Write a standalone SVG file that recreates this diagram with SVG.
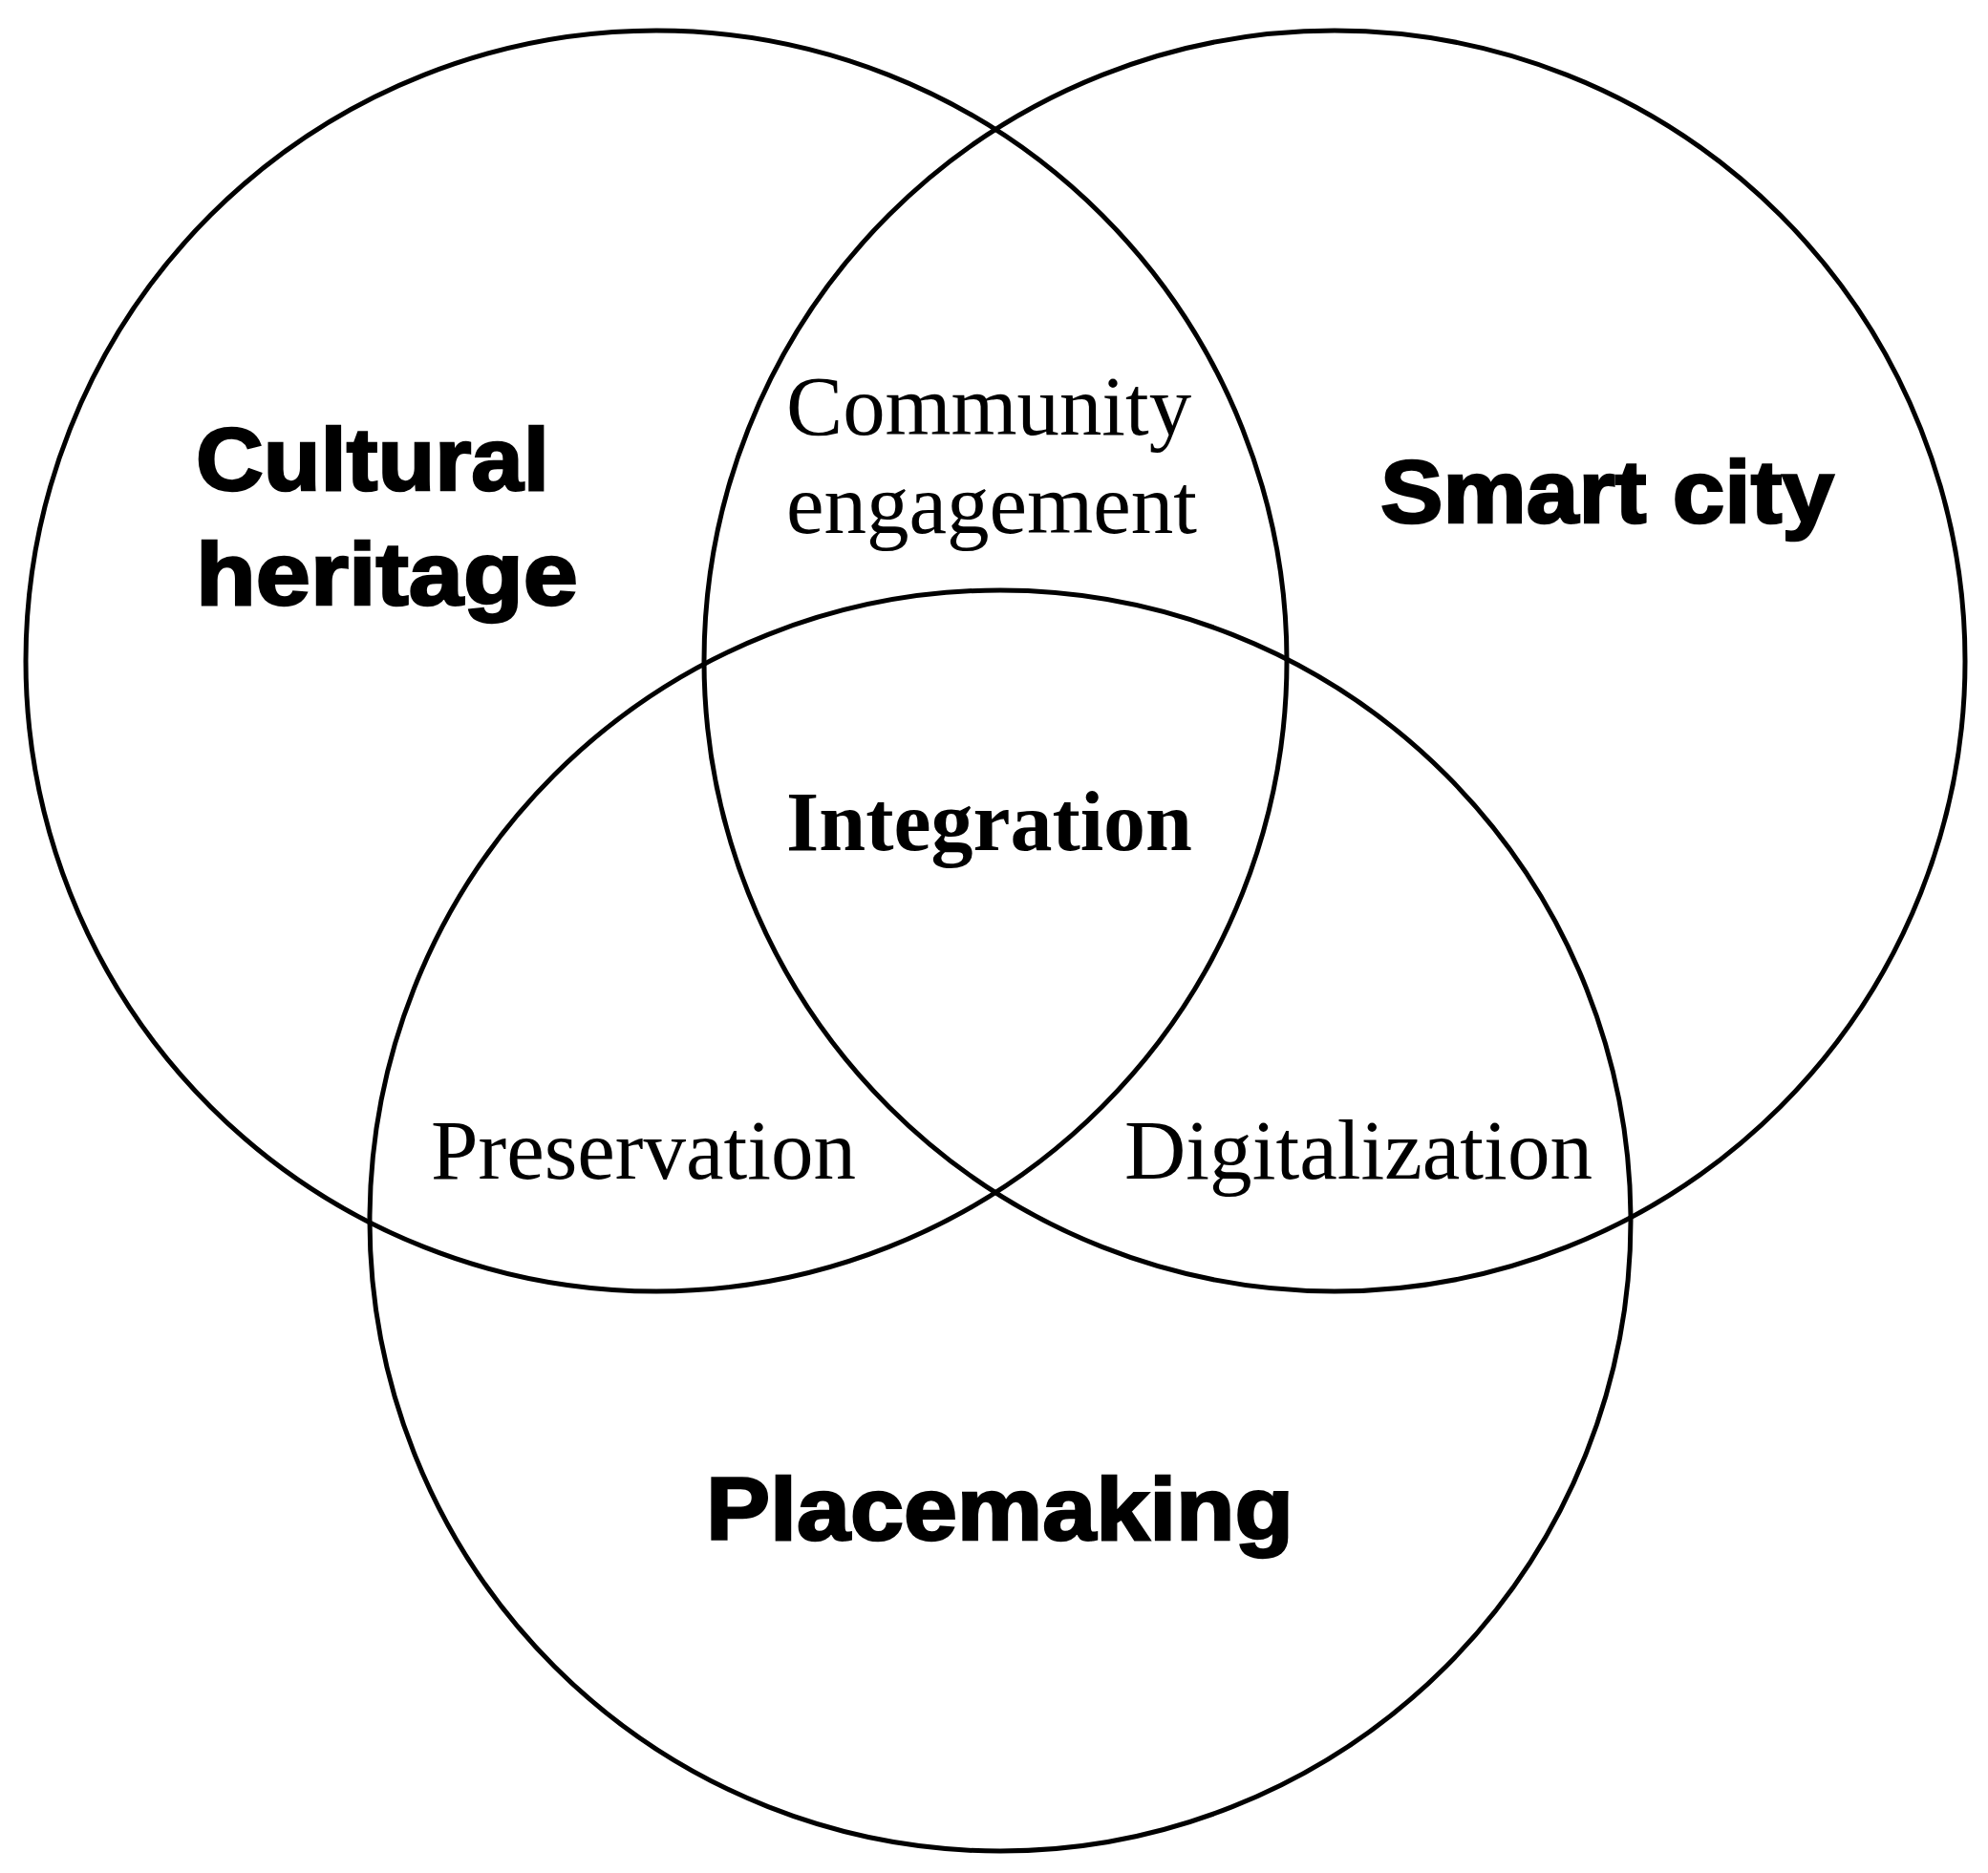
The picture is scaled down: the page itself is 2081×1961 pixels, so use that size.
<svg xmlns="http://www.w3.org/2000/svg" width="2081" height="1961" viewBox="0 0 2081 1961">
<style>
.c{fill:none;stroke:#000;stroke-width:5}
.h{font-family:"Liberation Sans",Arial,sans-serif;font-weight:bold;font-size:92px;fill:#000;stroke:#000;stroke-width:2.5}
.s{font-family:"Liberation Serif","Times New Roman",serif;font-size:88px;fill:#000}
.b{font-weight:bold}
</style>
<rect width="2081" height="1961" fill="#fff"/>
<g id="cultural-heritage">
<circle class="c" cx="687" cy="692" r="660"/>
<text class="h" x="205" y="513" textLength="370" lengthAdjust="spacingAndGlyphs">Cultural</text>
<text class="h" x="205" y="633" textLength="400" lengthAdjust="spacingAndGlyphs">heritage</text>
</g>
<g id="smart-city">
<circle class="c" cx="1397" cy="692" r="660"/>
<text class="h" x="1445" y="547" textLength="475" lengthAdjust="spacingAndGlyphs">Smart city</text>
</g>
<g id="placemaking">
<circle class="c" cx="1047" cy="1278" r="660"/>
<text class="h" x="739" y="1612" textLength="615" lengthAdjust="spacingAndGlyphs">Placemaking</text>
</g>
<g id="community-engagement">
<text class="s" x="823" y="455" textLength="424" lengthAdjust="spacingAndGlyphs">Community</text>
<text class="s" x="823" y="558" textLength="430" lengthAdjust="spacingAndGlyphs">engagement</text>
</g>
<g id="integration">
<text class="s b" x="823" y="890" textLength="425" lengthAdjust="spacingAndGlyphs">Integration</text>
</g>
<g id="preservation">
<text class="s" x="451" y="1234" textLength="445" lengthAdjust="spacingAndGlyphs">Preservation</text>
</g>
<g id="digitalization">
<text class="s" x="1177" y="1234" textLength="490" lengthAdjust="spacingAndGlyphs">Digitalization</text>
</g>
<g id="connectors"></g>
</svg>
